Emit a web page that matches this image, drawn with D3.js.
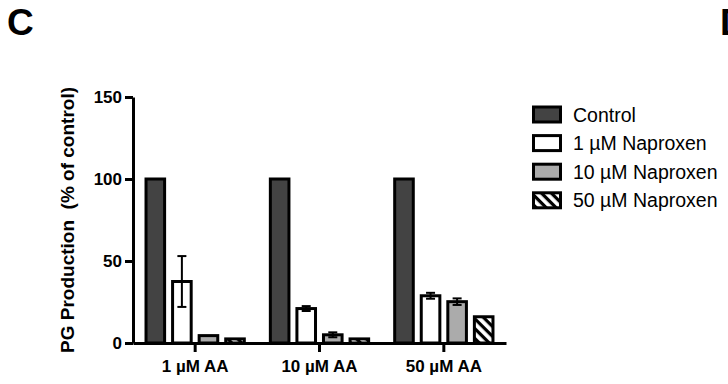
<!DOCTYPE html>
<html>
<head>
<meta charset="utf-8">
<script src="https://cdn.jsdelivr.net/npm/d3@7"></script>
<style>
  body { margin: 0; background: #fff; }
  svg { display: block; font-family: Arial, "Liberation Sans", sans-serif; }
</style>
</head>
<body>
<script>
// chart data
var groups = ["1 \u00b5M AA", "10 \u00b5M AA", "50 \u00b5M AA"];
var series = ["Control", "1 \u00b5M Naproxen", "10 \u00b5M Naproxen", "50 \u00b5M Naproxen"];
var control   = [100, 100, 100];
var nap1      = [37.5, 21, 28.8];
var nap10     = [4.5, 5, 25.2];
var nap50     = [2.5, 2.5, 16];
var errNap1   = [15.5, 1.5, 1.8];
var errNap10  = [0, 1.5, 2];
var yTicks    = [0, 50, 100, 150];

var values = [control, nap1, nap10, nap50];
var errors = [null, errNap1, errNap10, null];
var fills = ["#434343", "#ffffff", "#ababab", "url(#hatch)"];

var W = 728, H = 384;
var svg = d3.select("body").append("svg").attr("width", W).attr("height", H);

// hatch pattern
var pat = svg.append("defs").append("pattern")
  .attr("id", "hatch")
  .attr("patternUnits", "userSpaceOnUse")
  .attr("width", 7).attr("height", 7)
  .attr("patternTransform", "rotate(45)");
pat.append("rect").attr("width", 7).attr("height", 7).attr("fill", "#fff");
pat.append("rect").attr("width", 7).attr("height", 3.2).attr("fill", "#000");

var x0 = d3.scaleBand().domain(groups).range([133, 506]);
var x1 = d3.scaleBand().domain(series).range([0, x0.bandwidth()])
  .paddingInner(0.3).paddingOuter(0.49);
var y = d3.scaleLinear().domain([0, 150]).range([343, 97]);

// panel letters
svg.append("text").attr("x", 7).attr("y", 35)
  .attr("font-size", 37).attr("font-weight", "bold").text("C");
svg.append("text").attr("x", 720).attr("y", 35)
  .attr("font-size", 37).attr("font-weight", "bold").text("D");

// bars
series.forEach(function(s, i){
  var g = svg.append("g");
  g.selectAll("rect")
    .data(values[i])
    .enter()
    .append("rect")
    .attr("x", function(d, j){ return x0(groups[j]) + x1(s); })
    .attr("y", function(d){ return y(d); })
    .attr("width", x1.bandwidth())
    .attr("height", function(d){ return y(0) - y(d); })
    .attr("fill", fills[i])
    .attr("stroke", "#000")
    .attr("stroke-width", 3);

  if (errors[i]) {
    values[i].forEach(function(v, j){
      var e = errors[i][j];
      if (!e) return;
      var cx = x0(groups[j]) + x1(s) + x1.bandwidth() / 2;
      var eg = svg.append("g").attr("stroke", "#000").attr("stroke-width", 2);
      eg.append("line").attr("x1", cx).attr("x2", cx).attr("y1", y(v + e)).attr("y2", y(v - e));
      eg.append("line").attr("x1", cx - 4.5).attr("x2", cx + 4.5).attr("y1", y(v + e)).attr("y2", y(v + e));
      eg.append("line").attr("x1", cx - 4.5).attr("x2", cx + 4.5).attr("y1", y(v - e)).attr("y2", y(v - e));
    });
  }
});

// y axis
var yAxis = svg.append("g")
  .attr("transform", "translate(133,0)")
  .call(d3.axisLeft(y).tickValues(yTicks).tickSize(8).tickPadding(3).tickSizeOuter(0));
yAxis.select(".domain").attr("stroke-width", 3);
yAxis.selectAll(".tick line").attr("stroke-width", 3);
yAxis.selectAll(".tick text")
  .attr("font-size", 17).attr("font-weight", "bold")
  .attr("font-family", "Arial, 'Liberation Sans', sans-serif").attr("fill", "#000");

// x axis
var xAxis = svg.append("g")
  .attr("transform", "translate(0,343)")
  .call(d3.axisBottom(x0).tickSize(9).tickPadding(8).tickSizeOuter(0));
xAxis.select(".domain").attr("stroke-width", 3);
xAxis.selectAll(".tick line").attr("stroke-width", 3);
xAxis.selectAll(".tick text")
  .attr("font-size", 17).attr("font-weight", "bold")
  .attr("font-family", "Arial, 'Liberation Sans', sans-serif").attr("fill", "#000");

// y title
svg.append("text")
  .attr("transform", "translate(74,220) rotate(-90)")
  .attr("text-anchor", "middle")
  .attr("font-size", 19).attr("font-weight", "bold")
  .style("white-space", "pre")
  .text("PG Production  (% of control)");

// legend
var leg = svg.append("g").selectAll("g")
  .data(series)
  .enter()
  .append("g")
  .attr("transform", function(d, i){ return "translate(533.5," + (107 + i * 28.6) + ")"; });
leg.append("rect")
  .attr("width", 27).attr("height", 15)
  .attr("fill", function(d, i){ return fills[i]; })
  .attr("stroke", "#000").attr("stroke-width", 3);
leg.append("text")
  .attr("x", 39.5).attr("y", 7.5).attr("dy", "0.36em")
  .attr("font-size", 19.5)
  .text(function(d){ return d; });
</script>
</body>
</html>
